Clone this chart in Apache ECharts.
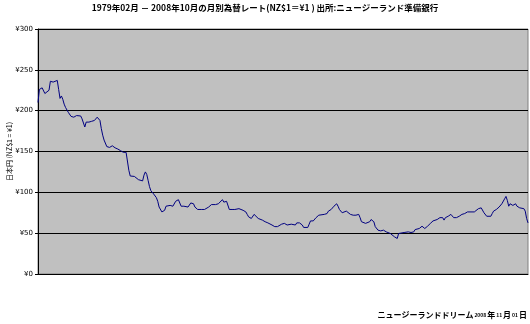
<!DOCTYPE html>
<html><head><meta charset="utf-8">
<script src="https://cdn.jsdelivr.net/npm/echarts@6/dist/echarts.min.js"></script>
<style>html,body{margin:0;padding:0;background:#fff}#c{width:530px;height:324px}</style>
</head><body><div id="c"></div>
<script>
// Months since 1979-02 (0 = 1979-02, 356 = 2008-10)
var monthIdx = [0,1,3,5,6,8,9,11,12,14,15,16,17,18,19,20,21,22,24,26,28,29,31,32,34,35,37,38,39,41,42,43,44,45,46,47,48,50,52,54,55,56,58,59,60,61,62,64,65,66,67,68,70,71,73,74,76,77,78,79,80,81,82,84,85,86,87,88,90,91,92,93,94,96,98,99,100,101,102,103,104,106,107,109,111,112,113,114,116,119,121,122,124,126,127,129,131,132,134,135,136,137,138,139,141,143,144,146,147,149,151,152,153,155,156,157,158,160,161,163,165,167,168,170,172,174,175,177,179,181,182,184,185,187,188,190,192,193,194,196,197,198,200,201,202,204,205,208,210,211,213,214,215,216,217,218,219,221,222,224,225,227,229,231,233,234,235,238,239,241,242,244,245,247,249,251,253,254,256,257,259,260,261,262,263,266,269,271,273,274,275,277,279,280,281,283,285,287,288,290,291,292,294,295,296,298,300,301,302,303,304,306,308,310,311,312,317,318,320,321,322,323,324,326,327,329,330,331,332,333,335,336,337,338,339,340,341,342,343,344,345,347,348,349,350,351,353,354,355,356];
// Yen per NZ$1
var rates = [210,226,228,221,221,225,236,235,237,237,226,215,218,214,208,204,202,198,193,192,194,193,193.5,190,180,186,186,184,187,188,190,192,192,188,178,170,164,156,155,157,158.5,154.5,153,152,151,150,149,149,147,127,120,119.5,119.5,118,115.5,114,114,121,125,122,114.6,107,102,98,96,93.5,89,82,76,75,78,83,83,84,83,85,89,87,91,89,83,83,85,82,87,89,86,82,79,79,79,81,82,85,84,85,86,88,91,88,89,89,87,79,79,79,80,80,79,78,76,73,70,68,70,73,71,68,68,66,64,62.6,61,60,58,58,58.5,61,62,60,60,61,60,60,62.6,62.6,60,57,55.7,57,61,65,65,66,69,72,73,73,74,77,79,81,83,85,86,83,79,75,75,77,76,73,72,72,73,69,64,62,64,64,66.7,64,58,53.7,52.8,53.7,51.6,51.6,49.6,49.6,45.5,43.5,43.5,49.6,50.8,50.8,51.6,50.8,51.6,54.4,55.7,55.7,58.5,57.7,55.7,58.5,61.8,65,66.7,66.7,68,69,69,66,69,70.7,73,72,69,68,69,70.7,73,74,73,76,76,78,80,81,81,79,75,70.7,70,70.7,74,77,79,79,82,84,86,88,92,95,90,83,86,87,84,86,83,84,81,80,80,77,68,62.6];
var yTicks = [0,50,100,150,200,250,300];
var titleText = '1979年02月 － 2008年10月の月別為替レート(NZ$1＝¥1 ) 出所:ニュージーランド準備銀行';
var yName = '日本円 (NZ$1 = ¥1)';
var footer = ['ニュージーランドドリーム', '2008', '年', '11', '月', '01', '日'];

var seriesData = monthIdx.map(function(m, i){ return [m, rates[i]]; });
var FONT = '"Noto Sans CJK JP", "DejaVu Sans", sans-serif';
var chart = echarts.init(document.getElementById('c'), null, {renderer:'canvas'});
chart.setOption({
  animation: false,
  backgroundColor: '#ffffff',
  title: [{
    text: titleText, left: 'center', top: -1,
    textStyle: {fontFamily: FONT, fontSize: 8.5, fontWeight: 'bold', color: '#000'}
  },{
    text: '{b|' + footer[0] + '}{s|' + footer[1] + '}{b|' + footer[2] + '}{s|' + footer[3] + '}{b|' + footer[4] + '}{s|' + footer[5] + '}{b|' + footer[6] + '}',
    right: 3, top: 311, padding: 0,
    textStyle: {rich: {
      b: {fontFamily: FONT, fontSize: 8, fontWeight: 'bold', color: '#000'},
      s: {fontFamily: FONT, fontSize: 5, color: '#000', padding: [0, 1, 0, 1]}
    }}
  }],
  grid: {left: 38, right: 2, top: 29, bottom: 50, outerBoundsMode: 'none', containLabel: false,
    show: true, backgroundColor: '#c0c0c0', borderColor: '#808080', borderWidth: 1},
  xAxis: {type: 'value', min: 0, max: 356, axisLabel: {show: false}, axisTick: {show: false}, splitLine: {show: false},
    axisLine: {show: true, lineStyle: {color: '#000', width: 1}}},
  yAxis: {type: 'value', min: yTicks[0], max: yTicks[yTicks.length-1], interval: 50,
    name: yName, nameLocation: 'middle', nameGap: 25, nameRotate: 90, nameMoveOverlap: false,
    nameTextStyle: {fontFamily: FONT, fontSize: 7, color: '#000'},
    axisLine: {show: true, lineStyle: {color: '#000', width: 1}},
    axisTick: {show: true, length: 3, lineStyle: {color: '#000'}},
    axisLabel: {formatter: function(v){ return '¥' + v; }, fontFamily: '"DejaVu Sans", sans-serif', fontSize: 7, color: '#000', margin: 5},
    splitLine: {show: true, lineStyle: {color: '#000', width: 1}}},
  series: [{type: 'line', data: seriesData, showSymbol: false, symbol: 'none',
    lineStyle: {color: '#000080', width: 1}}]
});
</script></body></html>
